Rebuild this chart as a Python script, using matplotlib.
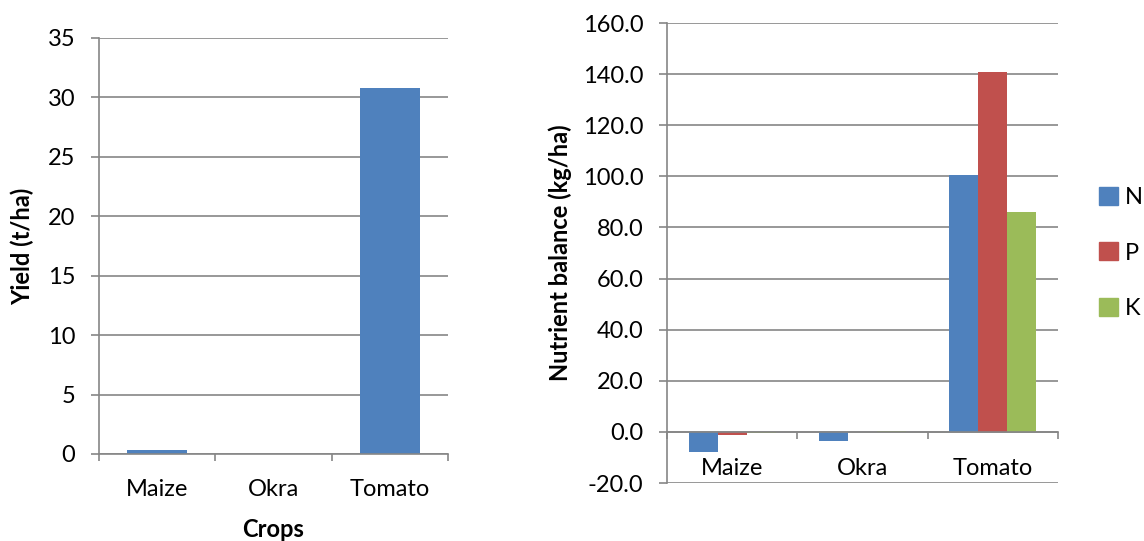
import numpy as np
import matplotlib.pyplot as plt
from matplotlib.patches import Rectangle

plt.rcParams["font.family"] = ["Lato", "DejaVu Sans"]

crops = ["Maize", "Okra", "Tomato"]
yield_t = [0.3, 0.0, 30.8]
nutrients = ["N", "P", "K"]
bal_N = [-8.0, -3.6, 100.6]
bal_P = [-1.2, 0.0, 141.0]
bal_K = [-0.6, 0.4, 85.9]
colors = ["#4F81BD", "#C0504D", "#9BBB59"]
GRID = "#868686"
FS = 17

fig = plt.figure(figsize=(11.44, 5.41), dpi=100)
W, H = 1144, 541


def box(x0, x1, y0, y1):
    return [x0 / W, 1 - y1 / H, (x1 - x0) / W, (y1 - y0) / H]


def style(ax):
    for s in ["top", "right"]:
        ax.spines[s].set_visible(False)
    for s in ["left", "bottom"]:
        ax.spines[s].set_color(GRID)
        ax.spines[s].set_linewidth(1.2)
    ax.yaxis.grid(True, color=GRID, lw=1.2)
    ax.set_axisbelow(True)
    ax.tick_params(axis="y", length=6, width=1.2, color=GRID, labelsize=FS, pad=11)
    x = np.arange(len(crops))
    ax.set_xlim(-0.5, len(crops) - 0.5)
    ax.set_xticks(x)
    ax.set_xticklabels(crops)
    ax.set_xticks(np.arange(len(crops) + 1) - 0.5, minor=True)
    ax.tick_params(axis="x", which="major", length=0, labelsize=FS)
    ax.tick_params(axis="x", which="minor", length=5, width=1.2, color=GRID)


# left: yield
ax1 = fig.add_axes(box(99, 448, 38, 454))
style(ax1)
ax1.bar(np.arange(len(crops)), yield_t, width=0.52, color=colors[0])
ax1.set_ylim(0, 35)
ax1.set_yticks(np.arange(0, 36, 5))
ax1.tick_params(axis="x", which="major", pad=18)
ax1.set_xlabel("Crops", fontsize=FS, fontweight="bold", labelpad=13)
ax1.set_ylabel("Yield (t/ha)", fontsize=FS, fontweight="bold", labelpad=10)

# right: nutrient balance
ax2 = fig.add_axes(box(667, 1058, 23, 483))
style(ax2)
x = np.arange(len(crops))
bw = 0.223
for i, (name, vals) in enumerate(zip(nutrients, [bal_N, bal_P, bal_K])):
    ax2.bar(x + (i - 1) * bw, vals, width=bw, color=colors[i], label=name)
ax2.set_ylim(-20, 160)
ax2.set_yticks(np.arange(-20, 161, 20))
ax2.yaxis.set_major_formatter(plt.FormatStrFormatter("%.1f"))
ax2.spines["bottom"].set_position(("data", 0))
ax2.tick_params(axis="x", which="major", pad=19)
ax2.set_ylabel("Nutrient balance (kg/ha)", fontsize=FS, fontweight="bold", labelpad=8)

handles = [Rectangle((0, 0), 1, 1, color=c) for c in colors]
fig.legend(handles, nutrients, loc="center left", bbox_to_anchor=(1099 / W, 1 - 253 / H),
           frameon=False, fontsize=FS, handlelength=0.8, handleheight=0.8,
           handletextpad=0.3, labelspacing=1.45, borderpad=0, borderaxespad=0)

fig.savefig("out.png", dpi=100)
